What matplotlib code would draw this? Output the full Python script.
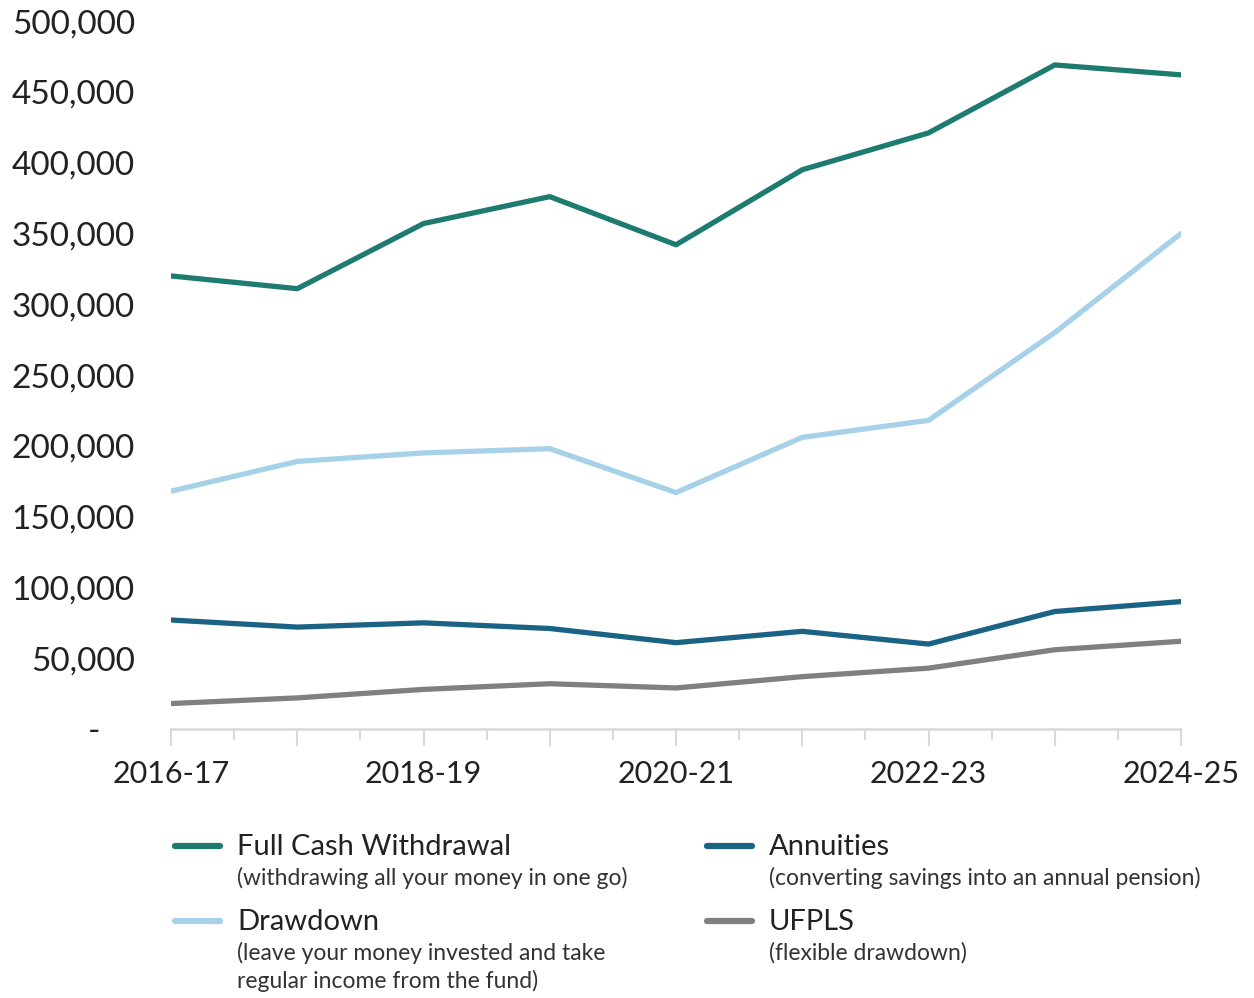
import matplotlib
matplotlib.use('Agg')
import matplotlib.pyplot as plt
from matplotlib.lines import Line2D
from matplotlib.ticker import FuncFormatter, MultipleLocator

plt.rcParams['font.family'] = ['Lato', 'DejaVu Sans']

# 各类养老金取款方式的年度人数
years = ['2016-17', '2017-18', '2018-19', '2019-20', '2020-21',
         '2021-22', '2022-23', '2023-24', '2024-25']
full_cash = [320000, 311000, 357000, 376000, 342000, 395000, 421000, 469000, 462000]
drawdown = [168000, 189000, 195000, 198000, 167000, 206000, 218000, 280000, 350000]
annuities = [77000, 72000, 75000, 71000, 61000, 69000, 60000, 83000, 90000]
ufpls = [18000, 22000, 28000, 32000, 29000, 37000, 43000, 56000, 62000]

series_names = ['Full Cash Withdrawal', 'Drawdown', 'Annuities', 'UFPLS']
series_notes = ['(withdrawing all your money in one go)',
                '(leave your money invested and take\nregular income from the fund)',
                '(converting savings into an annual pension)',
                '(flexible drawdown)']
colors = ['#1e7b6f', '#a6d1e8', '#1b6384', '#808080']

fig = plt.figure(figsize=(12.54, 9.98), dpi=100)
ax = fig.add_axes([0.1364, 0.2695, 0.8054, 0.7094])

x = list(range(len(years)))
for values, c in zip([full_cash, drawdown, annuities, ufpls], colors):
    ax.plot(x, values, color=c, linewidth=3.8, solid_capstyle='round',
            solid_joinstyle='round')

ax.set_xlim(0, len(years) - 1)
ax.set_ylim(0, 500000)

# y轴：0显示为“-”
ax.yaxis.set_major_locator(MultipleLocator(50000))
ax.yaxis.set_major_formatter(FuncFormatter(
    lambda v, p: '-    ' if v == 0 else f'{int(v):,}'))
ax.tick_params(axis='y', length=0, pad=26, labelsize=24, labelcolor='#222222')

# x轴：每年一个主刻度，中间加次刻度，隔年显示标签
ax.set_xticks(x)
ax.set_xticklabels([y if i % 2 == 0 else '' for i, y in enumerate(years)])
ax.set_xticks([i + 0.5 for i in x[:-1]], minor=True)
ax.tick_params(axis='x', which='major', length=12, width=1.5, color='#d9d9d9',
               pad=10, labelsize=22, labelcolor='#222222')
ax.tick_params(axis='x', which='minor', length=8, width=1.5, color='#d9d9d9')

for side in ['top', 'right', 'left']:
    ax.spines[side].set_visible(False)
ax.spines['bottom'].set_color('#d9d9d9')
ax.spines['bottom'].set_linewidth(1.8)

# 自定义图例（两列）
legend_pos = [(0.1396, 0.1513), (0.1396, 0.0762), (0.5638, 0.1513), (0.5638, 0.0762)]
for (lx, ly), name, note, c in zip(legend_pos, series_names, series_notes, colors):
    fig.add_artist(Line2D([lx, lx + 0.036], [ly + 0.001, ly + 0.001], color=c,
                          linewidth=4.5, solid_capstyle='round',
                          transform=fig.transFigure))
    fig.text(lx + 0.0495, ly, name, fontsize=21, color='#222222', va='center')
    fig.text(lx + 0.0495, ly - 0.020, note, fontsize=16.5, color='#333333',
             va='top', linespacing=1.35)

fig.savefig('out.png', dpi=100, facecolor='white')
